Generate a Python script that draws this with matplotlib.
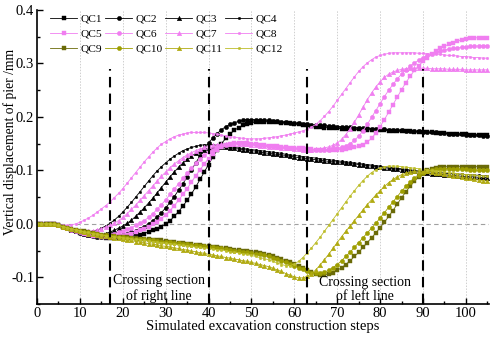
import matplotlib
matplotlib.use("Agg")
import matplotlib.pyplot as plt
from matplotlib.ticker import MultipleLocator, FormatStrFormatter

steps = list(range(0, 106))

QC1 = [0, 0, 0, 0, -0.001, -0.003, -0.005, -0.008, -0.011, -0.014,
       -0.017, -0.019, -0.021, -0.023, -0.024, -0.025, -0.026, -0.026, -0.026, -0.026,
       -0.025, -0.024, -0.023, -0.022, -0.020, -0.018, -0.015, -0.012, -0.009, -0.005,
       -0.001, 0.006, 0.014, 0.023, 0.033, 0.044, 0.056, 0.069, 0.083, 0.097,
       0.111, 0.125, 0.138, 0.150, 0.160, 0.168, 0.175, 0.180, 0.184, 0.187,
       0.189, 0.190, 0.191, 0.191, 0.191, 0.190, 0.190, 0.189, 0.189, 0.188,
       0.187, 0.186, 0.185, 0.184, 0.183, 0.182, 0.181, 0.180, 0.180, 0.179,
       0.179, 0.178, 0.178, 0.177, 0.177, 0.177, 0.176, 0.176, 0.176, 0.175,
       0.175, 0.175, 0.174, 0.174, 0.174, 0.173, 0.173, 0.173, 0.172, 0.172,
       0.172, 0.171, 0.171, 0.170, 0.170, 0.170, 0.169, 0.169, 0.168, 0.168,
       0.168, 0.167, 0.167, 0.166, 0.166, 0.166]
QC2 = [0, 0, 0, 0, -0.001, -0.003, -0.005, -0.008, -0.011, -0.014,
       -0.017, -0.019, -0.021, -0.023, -0.024, -0.025, -0.025, -0.025, -0.024, -0.023,
       -0.021, -0.019, -0.016, -0.013, -0.009, -0.005, 0.000, 0.006, 0.013, 0.021,
       0.030, 0.040, 0.051, 0.063, 0.075, 0.088, 0.101, 0.114, 0.127, 0.140,
       0.151, 0.161, 0.169, 0.176, 0.182, 0.186, 0.189, 0.192, 0.194, 0.195,
       0.195, 0.195, 0.195, 0.194, 0.194, 0.193, 0.192, 0.191, 0.190, 0.189,
       0.188, 0.188, 0.187, 0.186, 0.185, 0.185, 0.184, 0.184, 0.183, 0.183,
       0.182, 0.182, 0.181, 0.181, 0.180, 0.180, 0.179, 0.179, 0.178, 0.178,
       0.177, 0.177, 0.176, 0.176, 0.175, 0.175, 0.174, 0.174, 0.173, 0.173,
       0.172, 0.172, 0.171, 0.171, 0.170, 0.170, 0.169, 0.169, 0.168, 0.168,
       0.167, 0.167, 0.166, 0.166, 0.165, 0.165]
QC3 = [0, 0, 0, 0, -0.001, -0.003, -0.005, -0.008, -0.011, -0.014,
       -0.016, -0.018, -0.020, -0.021, -0.021, -0.020, -0.018, -0.015, -0.012, -0.008,
       -0.004, 0.001, 0.007, 0.014, 0.022, 0.030, 0.039, 0.048, 0.058, 0.068,
       0.078, 0.088, 0.097, 0.106, 0.114, 0.121, 0.127, 0.132, 0.136, 0.139,
       0.141, 0.142, 0.143, 0.143, 0.143, 0.142, 0.141, 0.140, 0.139, 0.138,
       0.137, 0.136, 0.134, 0.133, 0.132, 0.131, 0.130, 0.129, 0.128, 0.127,
       0.125, 0.124, 0.123, 0.122, 0.121, 0.120, 0.119, 0.118, 0.117, 0.116,
       0.116, 0.115, 0.114, 0.113, 0.112, 0.111, 0.110, 0.109, 0.108, 0.107,
       0.106, 0.105, 0.104, 0.103, 0.102, 0.101, 0.100, 0.099, 0.098, 0.097,
       0.096, 0.095, 0.094, 0.094, 0.093, 0.092, 0.091, 0.091, 0.090, 0.089,
       0.089, 0.088, 0.088, 0.087, 0.087, 0.086]
QC4 = [0, 0, 0, 0, -0.001, -0.003, -0.005, -0.007, -0.010, -0.012,
       -0.014, -0.015, -0.015, -0.014, -0.012, -0.008, -0.004, 0.001, 0.007, 0.014,
       0.022, 0.031, 0.040, 0.050, 0.060, 0.070, 0.080, 0.090, 0.099, 0.107,
       0.114, 0.121, 0.127, 0.132, 0.137, 0.140, 0.143, 0.145, 0.147, 0.148,
       0.148, 0.148, 0.147, 0.146, 0.145, 0.144, 0.143, 0.142, 0.141, 0.140,
       0.139, 0.138, 0.137, 0.136, 0.135, 0.134, 0.133, 0.132, 0.130, 0.129,
       0.128, 0.127, 0.126, 0.125, 0.124, 0.123, 0.122, 0.121, 0.120, 0.119,
       0.118, 0.117, 0.116, 0.115, 0.114, 0.113, 0.112, 0.111, 0.110, 0.109,
       0.108, 0.107, 0.106, 0.105, 0.104, 0.103, 0.102, 0.101, 0.100, 0.099,
       0.098, 0.098, 0.097, 0.096, 0.096, 0.095, 0.094, 0.094, 0.093, 0.093,
       0.092, 0.092, 0.091, 0.091, 0.090, 0.090]
QC5 = [0, 0, 0, 0, -0.001, -0.003, -0.005, -0.008, -0.011, -0.014,
       -0.016, -0.018, -0.020, -0.022, -0.023, -0.024, -0.024, -0.024, -0.024, -0.023,
       -0.022, -0.020, -0.018, -0.015, -0.012, -0.009, -0.005, -0.001, 0.004, 0.010,
       0.017, 0.025, 0.034, 0.044, 0.055, 0.066, 0.078, 0.090, 0.101, 0.112,
       0.122, 0.131, 0.138, 0.143, 0.147, 0.149, 0.151, 0.151, 0.151, 0.151,
       0.150, 0.149, 0.148, 0.147, 0.146, 0.146, 0.145, 0.144, 0.143, 0.142,
       0.142, 0.141, 0.141, 0.140, 0.140, 0.139, 0.139, 0.139, 0.139, 0.139,
       0.139, 0.139, 0.140, 0.141, 0.143, 0.145, 0.148, 0.153, 0.160, 0.170,
       0.182, 0.195, 0.209, 0.223, 0.237, 0.251, 0.264, 0.276, 0.287, 0.296,
       0.304, 0.311, 0.317, 0.323, 0.328, 0.332, 0.336, 0.339, 0.342, 0.344,
       0.346, 0.347, 0.348, 0.348, 0.348, 0.348]
QC6 = [0, 0, 0, 0, -0.001, -0.003, -0.005, -0.008, -0.011, -0.013,
       -0.015, -0.017, -0.019, -0.020, -0.021, -0.021, -0.021, -0.020, -0.018, -0.016,
       -0.013, -0.010, -0.007, -0.003, 0.001, 0.006, 0.012, 0.019, 0.027, 0.036,
       0.045, 0.055, 0.065, 0.075, 0.085, 0.095, 0.104, 0.113, 0.121, 0.128,
       0.134, 0.139, 0.143, 0.146, 0.148, 0.150, 0.151, 0.151, 0.151, 0.150,
       0.150, 0.149, 0.148, 0.147, 0.146, 0.145, 0.144, 0.143, 0.142, 0.141,
       0.141, 0.140, 0.140, 0.139, 0.139, 0.138, 0.138, 0.138, 0.139, 0.140,
       0.141, 0.143, 0.146, 0.150, 0.156, 0.164, 0.174, 0.186, 0.199, 0.212,
       0.225, 0.238, 0.250, 0.261, 0.271, 0.280, 0.288, 0.295, 0.301, 0.306,
       0.311, 0.315, 0.318, 0.321, 0.323, 0.325, 0.327, 0.328, 0.329, 0.330,
       0.331, 0.332, 0.332, 0.333, 0.333, 0.333]
QC7 = [0, 0, 0, 0, -0.001, -0.003, -0.005, -0.007, -0.009, -0.011,
       -0.013, -0.014, -0.014, -0.013, -0.011, -0.009, -0.006, -0.003, 0.001, 0.006,
       0.012, 0.019, 0.027, 0.035, 0.044, 0.053, 0.062, 0.071, 0.080, 0.089,
       0.097, 0.105, 0.112, 0.118, 0.124, 0.129, 0.133, 0.137, 0.140, 0.143,
       0.145, 0.147, 0.148, 0.149, 0.150, 0.150, 0.150, 0.150, 0.149, 0.149,
       0.148, 0.147, 0.146, 0.145, 0.144, 0.143, 0.143, 0.142, 0.141, 0.141,
       0.140, 0.140, 0.139, 0.139, 0.139, 0.140, 0.140, 0.142, 0.144, 0.147,
       0.151, 0.158, 0.167, 0.178, 0.190, 0.204, 0.218, 0.232, 0.245, 0.256,
       0.266, 0.274, 0.280, 0.284, 0.287, 0.289, 0.290, 0.291, 0.291, 0.291,
       0.291, 0.291, 0.290, 0.290, 0.290, 0.290, 0.289, 0.289, 0.289, 0.289,
       0.288, 0.288, 0.288, 0.288, 0.288, 0.288]
QC8 = [0, 0, 0, 0, -0.001, -0.002, -0.003, -0.003, -0.002, 0.000,
       0.003, 0.007, 0.011, 0.016, 0.022, 0.028, 0.034, 0.041, 0.049, 0.057,
       0.066, 0.076, 0.086, 0.096, 0.106, 0.116, 0.125, 0.134, 0.142, 0.149,
       0.154, 0.159, 0.163, 0.166, 0.168, 0.170, 0.171, 0.171, 0.171, 0.171,
       0.170, 0.169, 0.168, 0.166, 0.165, 0.163, 0.162, 0.161, 0.160, 0.159,
       0.159, 0.159, 0.159, 0.160, 0.161, 0.162, 0.163, 0.165, 0.166, 0.168,
       0.170, 0.172, 0.174, 0.177, 0.181, 0.186, 0.193, 0.201, 0.210, 0.220,
       0.231, 0.242, 0.253, 0.264, 0.275, 0.285, 0.294, 0.301, 0.307, 0.312,
       0.315, 0.317, 0.319, 0.320, 0.320, 0.320, 0.320, 0.320, 0.320, 0.319,
       0.319, 0.318, 0.318, 0.317, 0.317, 0.316, 0.315, 0.315, 0.314, 0.313,
       0.313, 0.312, 0.311, 0.311, 0.310, 0.310]
QC9 = [0, 0, 0, 0, -0.001, -0.003, -0.005, -0.007, -0.009, -0.011,
       -0.013, -0.014, -0.016, -0.017, -0.018, -0.020, -0.021, -0.022, -0.023, -0.024,
       -0.025, -0.025, -0.026, -0.027, -0.028, -0.028, -0.029, -0.030, -0.031, -0.031,
       -0.032, -0.033, -0.034, -0.035, -0.036, -0.037, -0.038, -0.039, -0.040, -0.041,
       -0.042, -0.043, -0.044, -0.045, -0.046, -0.047, -0.048, -0.049, -0.050, -0.051,
       -0.052, -0.053, -0.055, -0.056, -0.058, -0.060, -0.063, -0.066, -0.069, -0.072,
       -0.075, -0.079, -0.082, -0.086, -0.090, -0.093, -0.095, -0.095, -0.094, -0.091,
       -0.087, -0.082, -0.076, -0.069, -0.061, -0.053, -0.044, -0.035, -0.026, -0.017,
       -0.007, 0.003, 0.014, 0.025, 0.037, 0.049, 0.060, 0.070, 0.080, 0.088,
       0.095, 0.100, 0.103, 0.105, 0.106, 0.107, 0.107, 0.107, 0.107, 0.107,
       0.107, 0.107, 0.107, 0.107, 0.107, 0.107]
QC10 = [0, 0, 0, 0, -0.001, -0.003, -0.005, -0.007, -0.009, -0.011,
        -0.013, -0.015, -0.016, -0.017, -0.019, -0.020, -0.021, -0.022, -0.023, -0.024,
        -0.025, -0.026, -0.027, -0.028, -0.028, -0.029, -0.030, -0.031, -0.032, -0.033,
        -0.033, -0.034, -0.035, -0.036, -0.037, -0.038, -0.039, -0.040, -0.041, -0.042,
        -0.043, -0.044, -0.045, -0.046, -0.047, -0.048, -0.050, -0.051, -0.052, -0.053,
        -0.054, -0.056, -0.057, -0.059, -0.061, -0.063, -0.066, -0.069, -0.072, -0.075,
        -0.078, -0.082, -0.085, -0.088, -0.091, -0.092, -0.092, -0.090, -0.087, -0.082,
        -0.076, -0.069, -0.061, -0.053, -0.044, -0.035, -0.026, -0.017, -0.008, 0.001,
        0.011, 0.021, 0.031, 0.041, 0.051, 0.061, 0.070, 0.078, 0.085, 0.091,
        0.096, 0.099, 0.101, 0.102, 0.103, 0.103, 0.103, 0.103, 0.102, 0.102,
        0.102, 0.101, 0.101, 0.100, 0.100, 0.100]
QC11 = [0, 0, 0, 0, -0.001, -0.003, -0.005, -0.007, -0.010, -0.012,
        -0.014, -0.016, -0.018, -0.019, -0.021, -0.022, -0.023, -0.025, -0.026, -0.027,
        -0.029, -0.030, -0.031, -0.033, -0.034, -0.035, -0.037, -0.038, -0.039, -0.041,
        -0.042, -0.043, -0.045, -0.046, -0.048, -0.049, -0.051, -0.052, -0.054, -0.055,
        -0.057, -0.058, -0.060, -0.061, -0.063, -0.064, -0.066, -0.067, -0.069, -0.070,
        -0.072, -0.074, -0.076, -0.078, -0.080, -0.083, -0.086, -0.089, -0.093, -0.096,
        -0.099, -0.101, -0.101, -0.098, -0.093, -0.086, -0.077, -0.067, -0.057, -0.046,
        -0.035, -0.024, -0.014, -0.004, 0.006, 0.016, 0.026, 0.036, 0.045, 0.054,
        0.062, 0.070, 0.077, 0.083, 0.088, 0.092, 0.095, 0.097, 0.098, 0.099,
        0.099, 0.098, 0.097, 0.096, 0.095, 0.093, 0.092, 0.090, 0.089, 0.087,
        0.086, 0.085, 0.083, 0.082, 0.081, 0.080]
QC12 = [0, 0, 0, 0, -0.001, -0.003, -0.005, -0.007, -0.009, -0.011,
        -0.013, -0.015, -0.016, -0.018, -0.019, -0.020, -0.022, -0.023, -0.024, -0.025,
        -0.026, -0.027, -0.028, -0.029, -0.030, -0.031, -0.032, -0.033, -0.034, -0.035,
        -0.036, -0.037, -0.038, -0.039, -0.040, -0.041, -0.042, -0.043, -0.044, -0.045,
        -0.046, -0.047, -0.048, -0.049, -0.050, -0.052, -0.053, -0.054, -0.056, -0.057,
        -0.059, -0.061, -0.063, -0.065, -0.067, -0.070, -0.073, -0.076, -0.078, -0.078,
        -0.075, -0.070, -0.063, -0.054, -0.045, -0.035, -0.025, -0.014, -0.003, 0.008,
        0.019, 0.030, 0.041, 0.052, 0.062, 0.072, 0.081, 0.089, 0.096, 0.101,
        0.105, 0.107, 0.108, 0.108, 0.108, 0.107, 0.106, 0.105, 0.104, 0.103,
        0.102, 0.101, 0.100, 0.099, 0.098, 0.097, 0.096, 0.095, 0.094, 0.093,
        0.092, 0.092, 0.091, 0.090, 0.090, 0.089]

series_names = ["QC1", "QC2", "QC3", "QC4", "QC5", "QC6", "QC7", "QC8",
                "QC9", "QC10", "QC11", "QC12"]
series_values = [QC1, QC2, QC3, QC4, QC5, QC6, QC7, QC8, QC9, QC10, QC11, QC12]
for v in series_values:
    assert len(v) == len(steps), len(v)

crossing_steps = [17, 40, 63, 90]
section_labels = ["Crossing section\nof right line", "Crossing section\nof left line"]

colors = ["#000000"] * 4 + ["#f07ef0"] * 4 + ["#6a6a08", "#9e9e00", "#b0aa10", "#bdbd2a"]
markers = ["s", "o", "^", "."] * 3
msizes = [2.9, 3.1, 3.3, 3.6] * 3

plt.rcParams["font.family"] = ["Liberation Serif", "DejaVu Serif"]
plt.rcParams["mathtext.fontset"] = "stix"

fig = plt.figure(figsize=(4.91, 3.39), dpi=100)
ax = fig.add_axes([0.0754, 0.103, 0.9206, 0.8675])

handles = []
for name, vals, c, m, ms in zip(series_names, series_values, colors, markers, msizes):
    h, = ax.plot(steps, vals, color=c, marker=m, markersize=ms, linewidth=0.6,
                 markeredgewidth=0.3, label=name)
    handles.append(h)

# reference lines
ax.axhline(0, color="#a0a0a0", linestyle=(0, (4, 3)), linewidth=0.8, zorder=0)
for xv in range(10, 101, 10):
    ax.axvline(xv, color="#cfcfcf", linestyle=(0, (1.5, 1.5)), linewidth=0.7, zorder=0)
ax.vlines(crossing_steps, -0.15, 0.29, colors="k", linestyles=(0, (5, 3)),
          linewidth=1.5, zorder=5)

ax.text((crossing_steps[0] + crossing_steps[1]) / 2, -0.121, section_labels[0],
        ha="center", va="center", fontsize=10, linespacing=1.15)
ax.text((crossing_steps[2] + crossing_steps[3]) / 2, -0.123, section_labels[1],
        ha="center", va="center", fontsize=10, linespacing=1.15)

ax.set_xlim(0, 105.4)
ax.set_ylim(-0.15, 0.4)
ax.xaxis.set_major_locator(MultipleLocator(10))
ax.xaxis.set_minor_locator(MultipleLocator(5))
ax.yaxis.set_major_locator(MultipleLocator(0.1))
ax.yaxis.set_minor_locator(MultipleLocator(0.05))
ax.yaxis.set_major_formatter(FormatStrFormatter("%.1f"))
ax.tick_params(which="both", direction="in", labelsize=10.5, width=1.0)
ax.tick_params(which="major", length=4)
ax.tick_params(which="minor", length=2)
ax.tick_params(axis="x", pad=2)
ax.tick_params(axis="y", pad=2)
for s in ["top", "right"]:
    ax.spines[s].set_visible(False)
for s in ["left", "bottom"]:
    ax.spines[s].set_linewidth(1.2)

ax.set_xlabel("Simulated excavation construction steps", fontsize=10.5, labelpad=0)
ax.set_ylabel("Vertical displacement of pier /mm", fontsize=9.8)
ax.yaxis.set_label_coords(-0.045, 0.55)

order = [0, 4, 8, 1, 5, 9, 2, 6, 10, 3, 7, 11]
ax.legend([handles[i] for i in order], [series_names[i] for i in order],
          ncol=4, loc="upper left", bbox_to_anchor=(0.029, 0.988), frameon=False,
          fontsize=8.2, numpoints=1, handlelength=2.4, handletextpad=0.25,
          columnspacing=0.25, labelspacing=0.45, borderaxespad=0.0, borderpad=0.0,
          markerscale=1.0)

fig.savefig("out.png", dpi=100)
